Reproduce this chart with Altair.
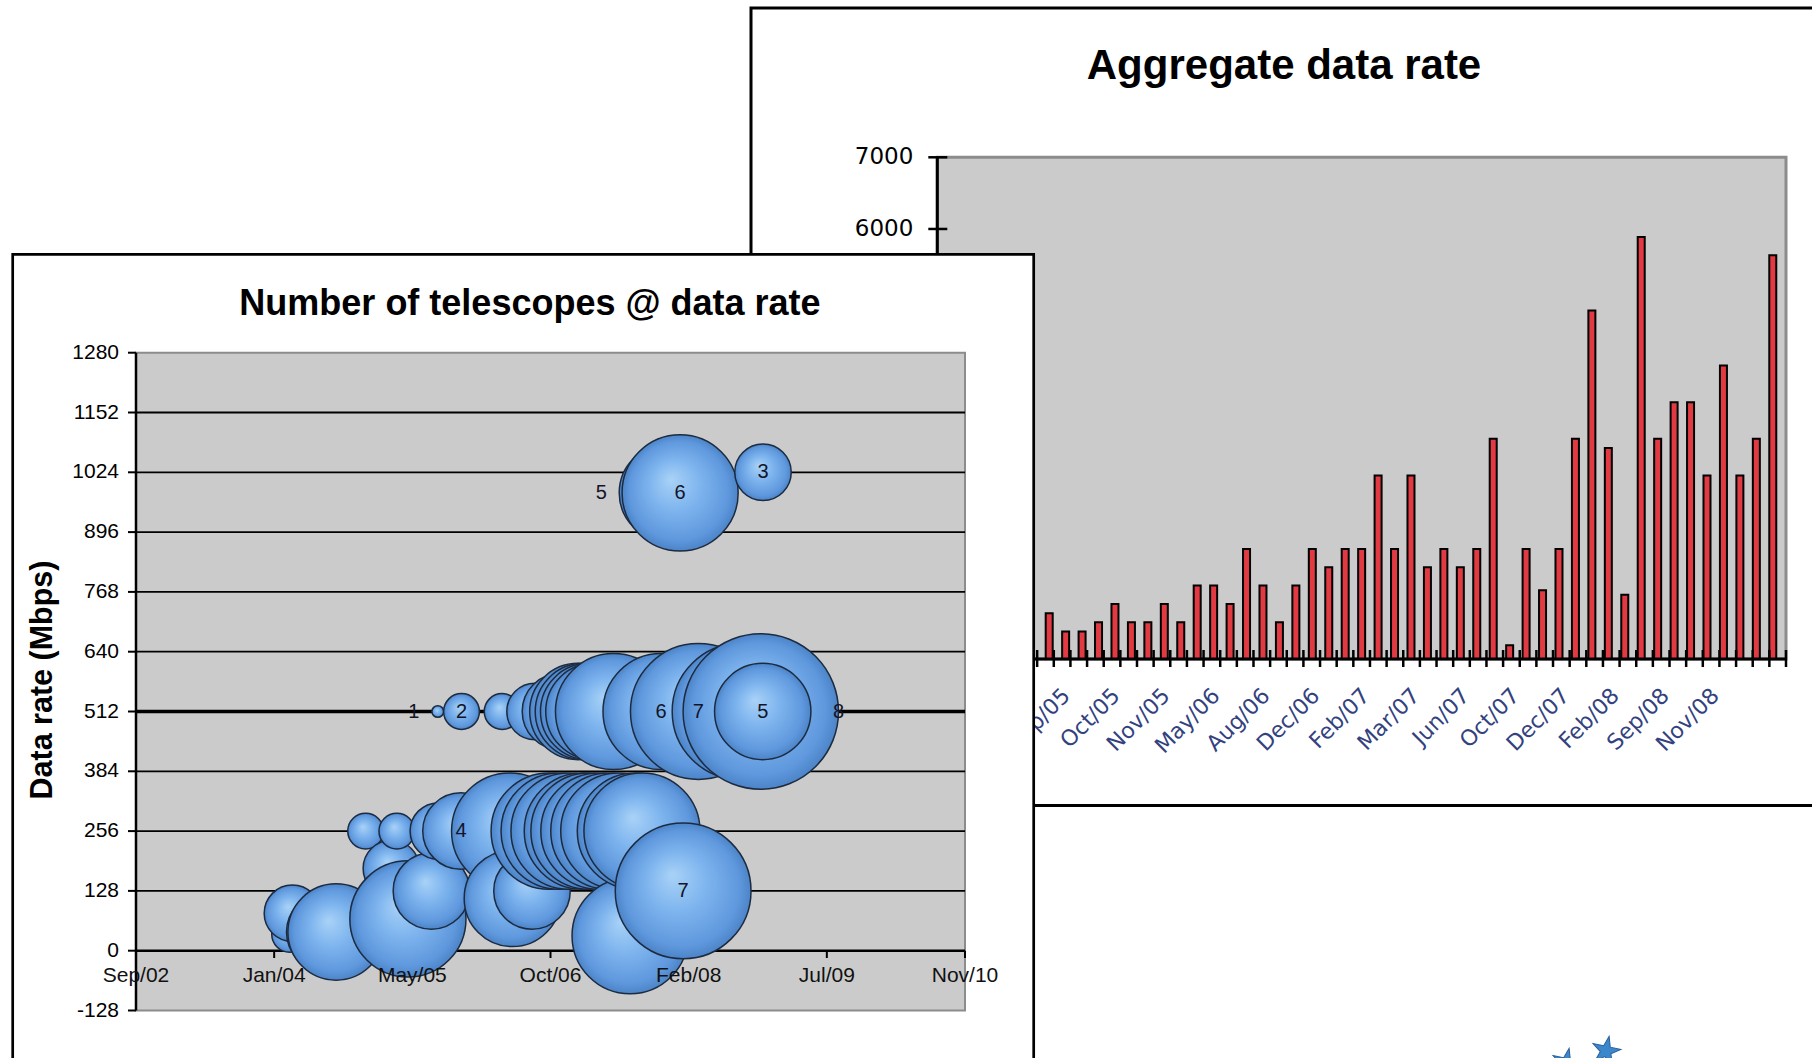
import math
import altair as alt
import pandas as pd

W, H = 1812, 1058
FONT = "Liberation Sans"
PLOT_GRAY = "#cbcbcb"
EDGE_GRAY = "#8c8c8c"

# ---------------- Aggregate data rate (back panel) ----------------
AGG_SESSIONS = 51          # category slots along the bar axis
AGG_FIRST = 7              # first session listed below; 1-6 sit under the front panel
agg_rate = [640, 384, 384, 512, 768, 512, 512, 768, 512, 1024,
            1024, 768, 1536, 1024, 512, 1024, 1536, 1280, 1536, 1536,
            2560, 1536, 2560, 1280, 1536, 1280, 1536, 3072, 192, 1536,
            960, 1536, 3072, 4864, 2944, 896, 5888, 3072, 3584, 3584,
            2560, 4096, 2560, 3072, 5632]
agg_label_session = [10, 13, 16, 19, 22, 25, 28, 31, 34, 37, 40, 43, 46, 49]
agg_label_text = ["Sep/05", "Oct/05", "Nov/05", "May/06", "Aug/06", "Dec/06", "Feb/07",
                  "Mar/07", "Jun/07", "Oct/07", "Dec/07", "Feb/08", "Sep/08", "Nov/08"]
agg_y_ticks = [0, 1000, 2000, 3000, 4000, 5000, 6000, 7000]

# ---------------- Number of telescopes @ data rate (front panel) ----------------
date_ticks = ["2002-09-01", "2004-01-14", "2005-05-28", "2006-10-10",
              "2008-02-22", "2009-07-06", "2010-11-18"]
date_tick_text = ["Sep/02", "Jan/04", "May/05", "Oct/06", "Feb/08", "Jul/09", "Nov/10"]
rate_ticks = [-128, 0, 128, 256, 384, 512, 640, 768, 896, 1024, 1152, 1280]
grid_rates = [128, 256, 384, 640, 768, 896, 1024, 1152]

obs_date = ["2004-03-10", "2004-03-20", "2004-07-15", "2004-08-25", "2004-12-10",
            "2005-03-13", "2005-04-02", "2005-05-12", "2005-08-05", "2005-08-28",
            "2005-08-30", "2005-11-20", "2005-11-22", "2006-04-18", "2006-05-15",
            "2006-05-25", "2006-08-04", "2006-08-15", "2006-10-05", "2006-11-10",
            "2006-11-15", "2006-12-16", "2007-01-17", "2007-02-02", "2007-02-06",
            "2007-02-25", "2007-02-26", "2007-03-16", "2007-04-03", "2007-05-09",
            "2007-05-26", "2007-06-14", "2007-07-25", "2007-08-13", "2007-09-06",
            "2007-11-14", "2007-12-07", "2008-01-22", "2008-02-02", "2008-03-28",
            "2008-08-26", "2008-11-09", "2008-11-16", "2008-11-17"]
obs_rate = [35, 80, 40, 40, 256,
            176, 256, 68, 128, 512,
            256, 256, 512, 512, 256,
            112, 128, 512, 256, 256,
            512, 256, 512, 256, 512,
            512, 256, 512, 256, 256,
            512, 256, 32, 256, 256,
            512, 980, 980, 128, 512,
            512, 512, 512, 1024]
obs_tel = [2, 3, 4, 5, 2,
           3, 2, 6, 4, 1,
           3, 4, 2, 2, 6,
           5, 4, 3, 6, 6,
           4, 6, 5, 6, 5,
           5, 6, 5, 6, 6,
           6, 6, 6, 6, 6,
           6, 5, 6, 7, 7,
           7, 8, 5, 3]
# where the telescope count is printed: "" none, "c" centre, "l" left, "r" right
obs_label = ["", "", "", "", "",
             "", "", "", "", "l",
             "", "c", "c", "", "",
             "", "", "", "", "",
             "", "", "", "", "",
             "", "", "", "", "",
             "", "", "", "", "",
             "c", "l", "c", "c", "c",
             "", "r", "c", "c"]

# ---------------- layout (pixels) ----------------
BACK_FRAME = (751, 8, 1850, 805.5)
BACK_PLOT = (937.3, 157.3, 1786, 659)
FRONT_FRAME = (12.7, 254.3, 1033.7, 1100)
FRONT_PLOT = (136, 352.7, 965, 1010.5)

EPOCH = pd.Timestamp("2002-09-01")
DAY_SPAN = 3000


def to_days(dates):
    return list((pd.to_datetime(pd.Series(dates)) - EPOCH).dt.days)


BX = alt.Scale(domain=[0, AGG_SESSIONS], range=[BACK_PLOT[0], BACK_PLOT[2]], zero=False, nice=False)
BY = alt.Scale(domain=[0, 7000], range=[BACK_PLOT[3], BACK_PLOT[1]], zero=False, nice=False)
FX = alt.Scale(domain=[0, DAY_SPAN], range=[FRONT_PLOT[0], FRONT_PLOT[2]], zero=False, nice=False)
FY = alt.Scale(domain=[-128, 1280], range=[FRONT_PLOT[3], FRONT_PLOT[1]], zero=False, nice=False)

# bubble width grows with the number of telescopes
R_MAX = 77.7
S_MAX = (2 * R_MAX) ** 2
N_MIN, N_MAX = 0.8, 8
SIZE = alt.Scale(type="pow", exponent=2, domain=[N_MIN, N_MAX], range=[0, S_MAX], zero=False)


def bubble_radius(n):
    return math.sqrt(S_MAX * (n * n - N_MIN ** 2) / (N_MAX ** 2 - N_MIN ** 2)) / 2


PX_PER_DAY = (FRONT_PLOT[2] - FRONT_PLOT[0]) / DAY_SPAN
ONE = pd.DataFrame({"k": [0]})


def box(b, fill, stroke, sw):
    return alt.Chart(ONE).mark_rect(fill=fill, stroke=stroke, strokeWidth=sw).encode(
        x=alt.value(b[0]), x2=alt.value(b[2]), y=alt.value(b[1]), y2=alt.value(b[3]))


def caption(text, x, y, **kw):
    return alt.Chart(pd.DataFrame({"t": [text]})).mark_text(**kw).encode(
        x=alt.value(x), y=alt.value(y), text="t:N")


# ================= back panel =================
back_frame = box(BACK_FRAME, "white", "black", 3)
back_title = caption("Aggregate data rate", 1284, 66, font=FONT, fontSize=42,
                     fontWeight="bold", align="center", baseline="middle", color="black")

back_plot = alt.Chart(ONE).mark_rect(fill=PLOT_GRAY, stroke=EDGE_GRAY, strokeWidth=3).encode(
    x=alt.XDatum(0, type="quantitative", scale=BX, axis=None),
    x2=alt.X2Datum(AGG_SESSIONS),
    y=alt.YDatum(0, type="quantitative", scale=BY, axis=None),
    y2=alt.Y2Datum(7000))

bars_df = pd.DataFrame({
    "pos": [s - 0.5 for s in range(AGG_FIRST, AGG_FIRST + len(agg_rate))],
    "rate": agg_rate})
back_bars = alt.Chart(bars_df).mark_bar(
    orient="vertical", size=7, fill="#e23a42", stroke="black", strokeWidth=2, opacity=1
).encode(
    x=alt.X("pos:Q", scale=BX, axis=None),
    y=alt.Y("rate:Q", scale=BY, axis=None),
    y2=alt.Y2Datum(0))

back_yline = alt.Chart(ONE).mark_rule(color="black", strokeWidth=3).encode(
    x=alt.XDatum(0, type="quantitative", scale=BX, axis=None),
    y=alt.YDatum(0, type="quantitative", scale=BY, axis=None),
    y2=alt.Y2Datum(7000))
byt = pd.DataFrame({"v": agg_y_ticks, "t": [str(v) for v in agg_y_ticks]})
back_yticks = alt.Chart(byt).mark_rule(color="black", strokeWidth=2.5).encode(
    x=alt.value(BACK_PLOT[0] - 9), x2=alt.value(BACK_PLOT[0] + 10),
    y=alt.Y("v:Q", scale=BY, axis=None))
back_ylabels = alt.Chart(byt).mark_text(
    align="right", baseline="middle", font="DejaVu Sans", fontSize=23, color="black"
).encode(x=alt.value(BACK_PLOT[0] - 24), y=alt.Y("v:Q", scale=BY, axis=None),
         text="t:N")

back_baseline = alt.Chart(ONE).mark_rule(color="black", strokeWidth=3).encode(
    x=alt.XDatum(0, type="quantitative", scale=BX, axis=None),
    x2=alt.X2Datum(AGG_SESSIONS),
    y=alt.YDatum(0, type="quantitative", scale=BY, axis=None))
back_xticks = alt.Chart(pd.DataFrame({"b": list(range(AGG_SESSIONS + 1))})).mark_rule(
    color="black", strokeWidth=2.5
).encode(x=alt.X("b:Q", scale=BX, axis=None),
         y=alt.value(BACK_PLOT[3] - 9), y2=alt.value(BACK_PLOT[3] + 8))
back_xlabels = alt.Chart(pd.DataFrame({
    "pos": [s - 0.5 for s in agg_label_session], "t": agg_label_text})).mark_text(
    angle=315, align="right", baseline="middle", dx=-44, dy=3,
    font="DejaVu Sans", fontSize=22, color="#33427f"
).encode(x=alt.X("pos:Q", scale=BX, axis=None),
         y=alt.YDatum(0, type="quantitative", scale=BY, axis=None),
         text="t:N")

# ================= front panel =================
front_frame = box(FRONT_FRAME, "white", "black", 2.7)
front_title = caption("Number of telescopes @ data rate", 530, 304, font=FONT, fontSize=36,
                      fontWeight="bold", align="center", baseline="middle", color="black")
front_ytitle = caption("Data rate (Mbps)", 43, 680, font=FONT, fontSize=30.5, angle=270,
                       fontWeight="bold", align="center", baseline="middle", color="black")

front_plot = alt.Chart(ONE).mark_rect(fill=PLOT_GRAY, stroke=EDGE_GRAY, strokeWidth=2).encode(
    x=alt.XDatum(0, type="quantitative", scale=FX, axis=None),
    x2=alt.X2Datum(DAY_SPAN),
    y=alt.YDatum(-128, type="quantitative", scale=FY, axis=None),
    y2=alt.Y2Datum(1280))


def hlines(values, width):
    return alt.Chart(pd.DataFrame({"v": values})).mark_rule(color="black", strokeWidth=width).encode(
        x=alt.XDatum(0, type="quantitative", scale=FX, axis=None),
        x2=alt.X2Datum(DAY_SPAN),
        y=alt.Y("v:Q", scale=FY, axis=None))


front_grid = hlines(grid_rates, 1.8)
front_grid512 = hlines([512], 3.6)
front_zero = hlines([0], 2.5)

xt = pd.DataFrame({"d": to_days(date_ticks), "t": date_tick_text})
front_xticks = alt.Chart(xt).mark_rule(color="black", strokeWidth=2).encode(
    x=alt.X("d:Q", scale=FX, axis=None),
    y=alt.YDatum(0, type="quantitative", scale=FY, axis=None),
    y2=alt.value(958))

obs = pd.DataFrame({"day": to_days(obs_date), "rate": obs_rate, "tel": obs_tel,
                    "lab": obs_label})
obs["seq"] = range(len(obs))

bubble_fill = alt.RadialGradient(
    gradient="radial",
    stops=[alt.GradientStop(offset=0, color="#a9d2f7"),
           alt.GradientStop(offset=0.45, color="#7db4ee"),
           alt.GradientStop(offset=0.85, color="#5f98dd"),
           alt.GradientStop(offset=1, color="#4d84c8")],
    x1=0.42, y1=0.38, r1=0, x2=0.5, y2=0.5, r2=0.5)

bubbles = alt.Chart(obs).mark_circle(
    opacity=1, fill=bubble_fill, stroke="#1c2b40", strokeWidth=1.5
).encode(
    x=alt.X("day:Q", scale=FX, axis=None),
    y=alt.Y("rate:Q", scale=FY, axis=None),
    size=alt.Size("tel:Q", scale=SIZE, legend=None),
    order=alt.Order("seq:Q"))

front_yline = alt.Chart(ONE).mark_rule(color="black", strokeWidth=2.5).encode(
    x=alt.XDatum(0, type="quantitative", scale=FX, axis=None),
    y=alt.YDatum(-128, type="quantitative", scale=FY, axis=None),
    y2=alt.Y2Datum(1280))
yt = pd.DataFrame({"v": rate_ticks, "t": [str(v) for v in rate_ticks]})
front_yticks = alt.Chart(yt).mark_rule(color="black", strokeWidth=2).encode(
    x=alt.value(FRONT_PLOT[0] - 8), x2=alt.value(FRONT_PLOT[0]),
    y=alt.Y("v:Q", scale=FY, axis=None))
front_ylabels = alt.Chart(yt).mark_text(
    align="right", baseline="middle", font=FONT, fontSize=21, color="black"
).encode(x=alt.value(FRONT_PLOT[0] - 17), y=alt.Y("v:Q", scale=FY, axis=None),
         text="t:N")
front_xlabels = alt.Chart(xt).mark_text(
    align="center", baseline="middle", dy=25, font=FONT, fontSize=21, color="#111111"
).encode(x=alt.X("d:Q", scale=FX, axis=None),
         y=alt.YDatum(0, type="quantitative", scale=FY, axis=None),
         text="t:N")

# telescope counts printed next to / on their bubbles
labs = obs[obs["lab"] != ""].copy()


def label_day(row):
    r = bubble_radius(row["tel"])
    if row["lab"] == "l":
        return row["day"] - (r + 18) / PX_PER_DAY
    if row["lab"] == "r":
        return row["day"] + r / PX_PER_DAY
    return row["day"]


labs["lday"] = labs.apply(label_day, axis=1)
labs["txt"] = labs["tel"].astype(str)
bubble_labels = alt.Chart(labs).mark_text(
    align="center", baseline="middle", font=FONT, fontSize=20, color="#141428"
).encode(x=alt.X("lday:Q", scale=FX, axis=None),
         y=alt.Y("rate:Q", scale=FY, axis=None),
         text="txt:N")

# two slide ornaments peeking in at the bottom edge
STAR = ("M0,-1L0.2245,-0.309L0.951,-0.309L0.363,0.118L0.588,0.809L0,0.382"
        "L-0.588,0.809L-0.363,0.118L-0.951,-0.309L-0.2245,-0.309Z")
stars = alt.Chart(pd.DataFrame({"sx": [1566, 1606], "sy": [1063, 1051]})).mark_point(
    shape=STAR, filled=True, fill="#3a87cc", stroke="#2b5f9e", strokeWidth=1,
    size=900, opacity=1, angle=12
).encode(x=alt.X("sx:Q", scale=None, axis=None), y=alt.Y("sy:Q", scale=None, axis=None))

chart = alt.layer(
    back_frame, back_title, back_plot, back_bars, back_yline, back_yticks, back_ylabels,
    back_baseline, back_xticks, back_xlabels,
    front_frame, front_title, front_ytitle, front_plot, front_grid, front_grid512,
    front_zero, front_xticks, bubbles, front_yline, front_yticks, front_ylabels,
    front_xlabels, bubble_labels, stars
).resolve_scale(
    x="independent", y="independent", size="independent"
).properties(
    width=W, height=H, padding=0, background="white",
    autosize=alt.AutoSizeParams(type="none")
).configure_view(stroke=None)

chart.save("out.html", embed_options={"renderer": "svg", "actions": False})
